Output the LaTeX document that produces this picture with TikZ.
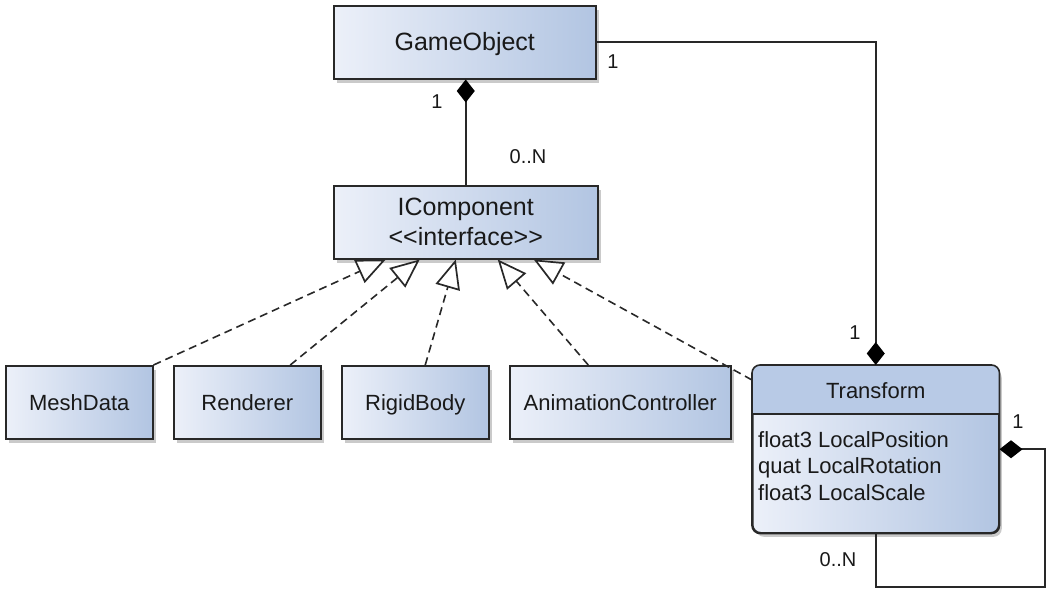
\documentclass[tikz,border=0pt]{standalone}
\usepackage{fontspec}
\setmainfont{Liberation Sans}
\usetikzlibrary{arrows.meta,shadows,calc}
\definecolor{gl}{RGB}{236,240,249}
\definecolor{gr}{RGB}{178,197,226}
\definecolor{hdr}{RGB}{184,202,230}
\definecolor{bd}{RGB}{40,40,40}
\definecolor{tx}{RGB}{25,25,25}
\tikzset{
  cls/.style={draw=bd, line width=1.5pt, left color=gl, right color=gr,
    drop shadow={shadow xshift=3pt, shadow yshift=-4pt, opacity=0.35, fill=black!60},
    font=\fontsize{22}{27}\selectfont, text=tx, inner sep=0pt, anchor=north west,
    minimum height=73pt, align=center},
  one/.style={text height=16pt, text depth=0pt},
  big/.style={font=\fontsize{25}{30}\selectfont},
  lbl/.style={font=\fontsize{20}{24}\selectfont, text=tx, inner sep=0pt},
  attr/.style={font=\fontsize{22}{27}\selectfont, text=tx, inner sep=0pt, anchor=base west},
  conn/.style={draw=bd, line width=1.6pt},
  real/.style={conn, dash pattern=on 8pt off 5pt, -{Triangle[open, length=29pt, width=25pt, fill=white, line width=1.7pt]}},
  comp/.style={conn, {Diamond[length=23pt, width=18pt, fill=black, color=black]}-},
}
\begin{document}
\begin{tikzpicture}[x=1pt, y=-1pt]
\useasboundingbox (0,0) rectangle (1051,592);

\node[cls, big, one, minimum width=262pt] (go) at (333,5) {GameObject};
\node[cls, big, minimum width=264pt] (ic) at (333,185) {IComponent\\<\kern0pt<interface>\kern0pt>};

\node[cls, one, minimum width=147pt] (md) at (5,365) {MeshData};
\node[cls, one, minimum width=147pt] (rd) at (173,365) {Renderer};
\node[cls, one, minimum width=147pt] (rb) at (341,365) {RigidBody};
\node[cls, one, minimum width=221pt] (ac) at (509,365) {AnimationController};

% Transform class
\node[cls, minimum width=246pt, minimum height=167pt, rounded corners=8pt] (tr) at (752,365) {};
\coordinate (dv) at ($(tr.north west)+(0,49)$);
\begin{scope}
  \clip[rounded corners=8pt] (tr.north west) rectangle (tr.south east);
  \fill[hdr] (tr.north west) rectangle (tr.east |- dv);
\end{scope}
\draw[conn, rounded corners=8pt] (tr.north west) rectangle (tr.south east);
\draw[conn] (dv) -- (tr.east |- dv);
\node[font=\fontsize{22}{27}\selectfont, text=tx, inner sep=0pt, anchor=base] (trn) at ($(tr.north)+(0,33)$) {Transform};
\node[attr] (a1) at (758,447) {float3 LocalPosition};
\node[attr] (a2) at (758,473) {quat LocalRotation};
\node[attr] (a3) at (758,500) {float3 LocalScale};

% realizations
\draw[real] (md.north east) -- ([xshift=-80pt]ic.south);
\draw[real] ([xshift=43pt]rd.north) -- ([xshift=-46pt]ic.south);
\draw[real] ([xshift=10pt]rb.north) -- ([xshift=-10pt]ic.south);
\draw[real] ([xshift=-32pt]ac.north) -- ([xshift=32pt]ic.south);
\draw[real] ([yshift=-15pt]tr.north west) -- ([xshift=68pt]ic.south);

% compositions
\draw[comp] (ic.north |- go.south) -- (ic.north);
\draw[comp] (tr.north) |- (go.east);
\coordinate (lr) at (1045,587);
\draw[comp] (tr.east) -| (lr) -| (tr.south);

% multiplicities
\node[lbl] (m1) at (437,102) {1};
\node[lbl] (m2) at (528,157) {0..N};
\node[lbl] (m3) at (613,62) {1};
\node[lbl] (m4) at (855,333) {1};
\node[lbl] (m5) at (1018,422) {1};
\node[lbl] (m6) at (838,560) {0..N};
\end{tikzpicture}
\end{document}
